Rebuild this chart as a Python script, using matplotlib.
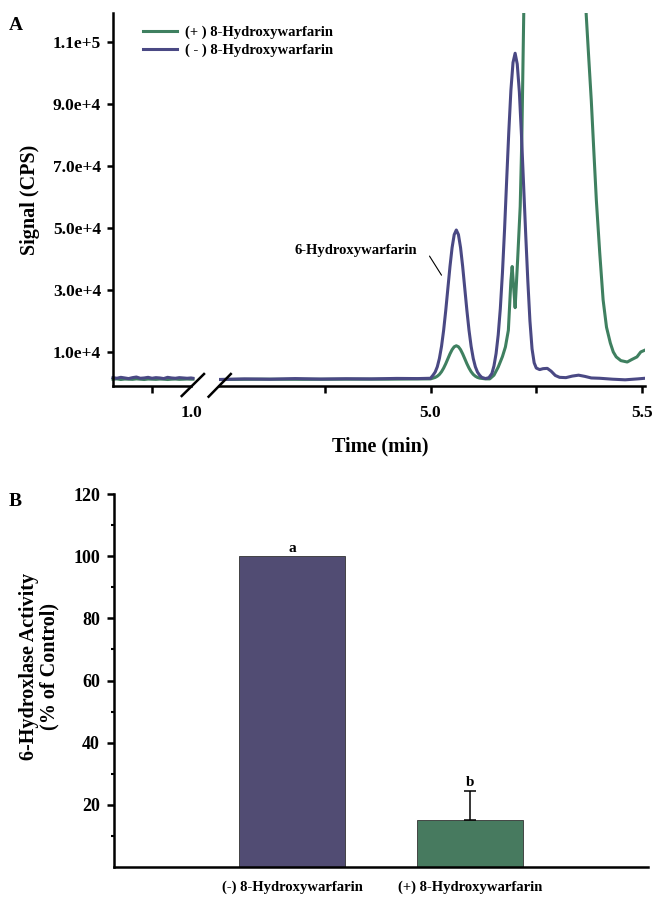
import numpy as np
import matplotlib
matplotlib.use('Agg')
from matplotlib import pyplot as plt
from matplotlib.lines import Line2D

plt.rcParams['font.family'] = ['Liberation Serif', 'DejaVu Serif']
plt.rcParams['font.weight'] = 'bold'

BLUE_LINE  = '#4a4984'
GREEN_LINE = '#3f8060'
BLUE_BAR   = '#514c73'
GREEN_BAR  = '#477a5f'

# chromatogram, first segment (before the axis break)
t_early     = [0.80, 0.81, 0.82, 0.83, 0.84, 0.85, 0.86, 0.87, 0.88, 0.89, 0.90,
               0.91, 0.92, 0.93, 0.94, 0.95, 0.96, 0.97, 0.98, 0.99, 1.00, 1.005]
minus_early = [1700, 1500, 1800, 1600, 1400, 1700, 1900, 1500, 1600, 1800, 1500,
               1700, 1600, 1400, 1800, 1600, 1500, 1700, 1600, 1500, 1600, 1500]
plus_early  = [1200, 1300, 1100, 1250, 1200, 1150, 1300, 1200, 1100, 1250, 1200,
               1150, 1250, 1200, 1100, 1200, 1250, 1150, 1200, 1250, 1200, 1200]

# chromatogram, second segment (after the break)
t_minus = [4.50, 4.56, 4.62, 4.68, 4.74, 4.80, 4.86, 4.92, 4.97, 5.000,
           5.006, 5.011, 5.016, 5.021, 5.026, 5.031, 5.036, 5.041, 5.046, 5.051, 5.056,
           5.061, 5.066, 5.071, 5.076, 5.081, 5.086, 5.091, 5.096, 5.101, 5.106, 5.111,
           5.116, 5.121, 5.130, 5.138,
           5.145, 5.150, 5.155, 5.160, 5.165, 5.170, 5.175, 5.180, 5.185, 5.190, 5.195,
           5.200, 5.205, 5.210, 5.215, 5.220, 5.225, 5.230, 5.235, 5.240, 5.245, 5.250,
           5.258, 5.266, 5.276, 5.285, 5.295, 5.305, 5.32, 5.335, 5.35, 5.365, 5.38,
           5.40, 5.43, 5.46, 5.49, 5.507]
minus   = [1100, 1300, 1200, 1400, 1250, 1350, 1300, 1450, 1400, 1500,
           2500, 3500, 5200, 7900, 11800, 17000, 23400, 30500, 37600, 43700, 47900,
           49400, 47900, 43700, 37600, 30500, 23400, 17000, 11800, 7900, 5200, 3500,
           2500, 1800, 1400, 1700,
           3000, 5500, 9500, 15500, 24000, 35500, 49500, 65500, 81000, 94500, 103500,
           106500, 103000, 94000, 80000, 64000, 48000, 33000, 20000, 11000, 6500, 4800,
           4300, 4600, 4700, 3800, 2400, 1800, 1700, 2200, 2500, 2100, 1600,
           1500, 1200, 1000, 1300, 1500]

t_plus = [4.50, 4.60, 4.70, 4.80, 4.90, 5.000,
          5.006, 5.011, 5.016, 5.021, 5.026, 5.031, 5.036, 5.041, 5.046, 5.051, 5.056,
          5.061, 5.066, 5.071, 5.076, 5.081, 5.086, 5.091, 5.096, 5.101, 5.106, 5.111,
          5.116, 5.130, 5.14, 5.15, 5.16, 5.17, 5.177, 5.184, 5.19,
          5.193, 5.197, 5.200, 5.203, 5.206, 5.212, 5.216, 5.221, 5.23, 5.30, 5.36,
          5.368, 5.374, 5.380, 5.386, 5.392, 5.40, 5.408, 5.416, 5.425, 5.432,
          5.439, 5.45, 5.465, 5.475, 5.488, 5.497, 5.507]
plus   = [1100, 1200, 1150, 1200, 1200, 1300,
          1550, 1770, 2160, 2740, 3610, 4780, 6200, 7800, 9380, 10740, 11670,
          12000, 11670, 10740, 9380, 7800, 6200, 4780, 3610, 2740, 2160, 1770,
          1550, 1300, 1300, 2500, 5100, 8500, 11600, 17000, 33000,
          37600, 30000, 24300, 32000, 40000, 57000, 80000, 125000, 200000, 400000, 150000,
          119000, 105000, 91300, 75000, 59000, 42000, 26800, 18000, 12900, 10000,
          8400, 7200, 6750, 7500, 8400, 10000, 10600]

y_ticks = [1e4, 3e4, 5e4, 7e4, 9e4, 1.1e5]
y_tick_labels = ['1.0e+4', '3.0e+4', '5.0e+4', '7.0e+4', '9.0e+4', '1.1e+5']

# bar panel
groups   = ['(-) 8-Hydroxywarfarin', '(+) 8-Hydroxywarfarin']
activity = [100, 15]
err_up   = [0, 9.5]
letters  = ['a', 'b']

W, H = 661, 905
fig = plt.figure(figsize=(W / 100, H / 100), dpi=100)

def box(x0, x1, ytop, ybot):
    return [x0 / W, 1 - ybot / H, (x1 - x0) / W, (ybot - ytop) / H]

ylim_a = (-1000, 119500)
ax1 = fig.add_axes(box(113, 191, 13, 386))
ax2 = fig.add_axes(box(219, 645, 13, 386))

lw = 2.2
ax1.plot(t_early, plus_early, color=GREEN_LINE, lw=lw, clip_on=False)
ax1.plot(t_early, minus_early, color=BLUE_LINE, lw=lw, clip_on=False)
ax2.plot(t_plus, plus, color=GREEN_LINE, lw=lw, label='(+ ) 8-Hydroxywarfarin')
ax2.plot(t_minus, minus, color=BLUE_LINE, lw=lw, label='( - ) 8-Hydroxywarfarin')

for ax in (ax1, ax2):
    ax.set_ylim(*ylim_a)
    ax.spines['top'].set_visible(False)
    ax.spines['right'].set_visible(False)
    ax.spines['bottom'].set_linewidth(1.8)
    ax.spines['left'].set_linewidth(1.8)
    ax.tick_params(axis='x', direction='out', length=5, width=1.8, pad=9, labelsize=12.5)

ax2.spines['left'].set_visible(False)
ax2.set_yticks([])
ax1.set_yticks(y_ticks)
ax1.set_yticklabels(y_tick_labels)
ax1.tick_params(axis='y', direction='out', length=4.5, width=1.8, pad=4, labelsize=12.5)

ax1.set_xlim(0.8, 1.0)
ax1.set_xticks([0.9, 1.0])
ax1.set_xticklabels(['', '1.0'])
ax1.xaxis.get_major_ticks()[1].tick1line.set_visible(False)

ax2.set_xlim(4.5, 5.507)
ax2.set_xticks([4.75, 5.0, 5.25, 5.5])
ax2.set_xticklabels(['', '5.0', '', '5.5'])

# break marks
for (xa, ya, xb, yb) in [(181.7, 396, 204, 374), (208.6, 396.7, 230.8, 374)]:
    fig.add_artist(Line2D([xa / W, xb / W], [1 - ya / H, 1 - yb / H],
                          transform=fig.transFigure, color='black', lw=1.8))

ax2.text(4.969, 42900, '6-Hydroxywarfarin', fontsize=10.5, ha='right', va='center')
ax2.annotate('', xy=(5.026, 34800), xytext=(4.9976, 40970),
             arrowprops=dict(arrowstyle='-', color='black', lw=0.8,
                             shrinkA=0, shrinkB=0))

fig.legend(loc='upper left', bbox_to_anchor=(143 / W, 1 - 26 / H), frameon=False,
           fontsize=10.5, handlelength=2.3, handletextpad=0.55, labelspacing=0.3,
           borderpad=0, borderaxespad=0)

fig.text(30 / W, 1 - 200 / H, 'Signal (CPS)', rotation=90, ha='center', va='center',
         fontsize=14.5)
fig.text(380 / W, 1 - 446 / H, 'Time (min)', ha='center', va='center', fontsize=14.5)
fig.text(16 / W, 1 - 25 / H, 'A', ha='center', va='center', fontsize=14)

# panel B
axb = fig.add_axes(box(114, 648, 494, 867))
x = np.arange(len(groups))
axb.bar(x, activity, width=0.6, color=[BLUE_BAR, GREEN_BAR], edgecolor='#333333', lw=0.6)
axb.errorbar(x[1], activity[1], yerr=[[0], [err_up[1]]], fmt='none', ecolor='black',
             elinewidth=1.1, capsize=4.5, capthick=1.1)
for xi, v, e, s in zip(x, activity, err_up, letters):
    axb.annotate(s, xy=(xi, v + e), xytext=(0, 1), textcoords='offset points',
                 ha='center', va='bottom', fontsize=11)

axb.set_xlim(-1, 2)
axb.set_ylim(0, 120)
axb.set_xticks(x)
axb.set_xticklabels(groups)
axb.set_yticks([20, 40, 60, 80, 100, 120])
axb.set_yticks(np.arange(10, 120, 20), minor=True)
axb.spines['top'].set_visible(False)
axb.spines['right'].set_visible(False)
axb.spines['bottom'].set_linewidth(1.8)
axb.spines['left'].set_linewidth(1.8)
axb.tick_params(axis='x', length=0, pad=10, labelsize=10.5)
axb.tick_params(axis='y', which='major', direction='out', length=5, width=1.8, pad=5,
                labelsize=13)
axb.tick_params(axis='y', which='minor', direction='out', length=2.5, width=1.5)

fig.text(39 / W, 1 - 666 / H, '6-Hydroxlase Activity\n(% of Control)', rotation=90,
         ha='center', va='center', fontsize=14.5, linespacing=1.05, multialignment='center')
fig.text(15 / W, 1 - 502 / H, 'B', ha='center', va='center', fontsize=14)

fig.savefig('out.png', dpi=100)
